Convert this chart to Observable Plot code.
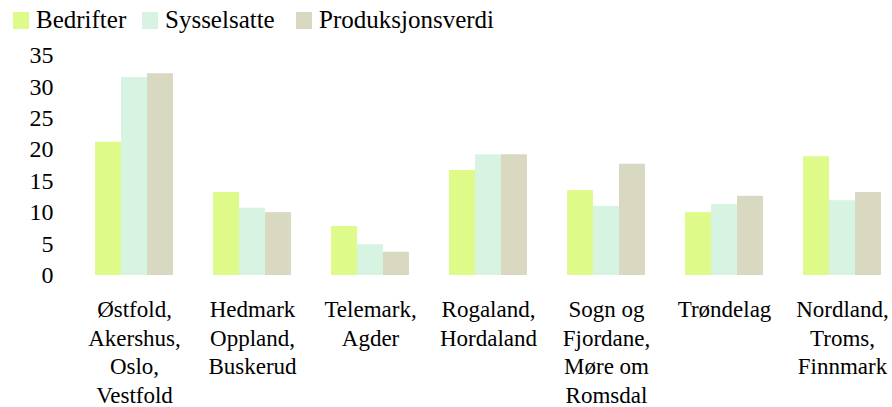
<!DOCTYPE html>
<html>
<head>
<meta charset="utf-8">
<script src="https://cdn.jsdelivr.net/npm/d3@7"></script>
<script src="https://cdn.jsdelivr.net/npm/@observablehq/plot@0.6"></script>
<style>
  html, body { margin: 0; padding: 0; background: #fff; }
  #legend { height: 40px; position: relative; font-family: "Liberation Serif", serif; font-size: 25px; color: #000; }
  .item { position: absolute; top: 0; height: 40px; display: flex; align-items: center; white-space: nowrap; }
  .sw { width: 16px; height: 17px; margin-right: 7px; }
</style>
</head>
<body>
<div id="legend"></div>
<div id="chart"></div>
<script>
const categories = [
  "Østfold,\nAkershus,\nOslo,\nVestfold",
  "Hedmark\nOppland,\nBuskerud",
  "Telemark,\nAgder",
  "Rogaland,\nHordaland",
  "Sogn og\nFjordane,\nMøre om\nRomsdal",
  "Trøndelag",
  "Nordland,\nTroms,\nFinnmark"
];
const series = ["Bedrifter", "Sysselsatte", "Produksjonsverdi"];
const bedrifter = [21.2, 13.2, 7.8, 16.7, 13.5, 10.0, 18.9];
const sysselsatte = [31.5, 10.7, 4.9, 19.2, 11.0, 11.3, 11.9];
const produksjonsverdi = [32.1, 10.0, 3.7, 19.2, 17.7, 12.6, 13.2];
const yTicks = [0, 5, 10, 15, 20, 25, 30, 35];
const colors = ["#defa88", "#d7f4e3", "#d9d8c0"];

const seriesValues = [bedrifter, sysselsatte, produksjonsverdi];
const data = categories.flatMap((c, i) =>
  series.map((s, j) => ({region: c, series: s, value: seriesValues[j][i]}))
);

// legend
const legend = document.getElementById("legend");
const legendX = [13, 142, 296];
series.forEach((s, j) => {
  const item = document.createElement("div");
  item.className = "item";
  item.style.left = legendX[j] + "px";
  const sw = document.createElement("div");
  sw.className = "sw";
  sw.style.background = colors[j];
  const t = document.createElement("span");
  t.textContent = s;
  item.appendChild(sw);
  item.appendChild(t);
  legend.appendChild(item);
});

const chart = Plot.plot({
  width: 892,
  height: 367,
  marginLeft: 75,
  marginRight: 0,
  marginTop: 15,
  marginBottom: 132,
  style: {fontFamily: "Liberation Serif, serif", color: "#000", background: "#fff", overflow: "visible"},
  fx: {domain: categories, range: [75, 901], paddingInner: 0.34, paddingOuter: 0.17, round: false, axis: null},
  x: {domain: series, padding: 0, axis: null, round: false},
  y: {domain: [0, 35], axis: null},
  color: {domain: series, range: colors},
  marks: [
    Plot.barY(data, {fx: "region", x: "series", y: "value", fill: "series"}),
    Plot.axisY({ticks: yTicks, tickSize: 0, tickPadding: 42, fontSize: 24, label: null}),
    Plot.axisFx({anchor: "bottom", tickSize: 0, tickPadding: 21, fontSize: 23, lineHeight: 1.25, label: null})
  ]
});
document.getElementById("chart").appendChild(chart);
</script>
</body>
</html>
